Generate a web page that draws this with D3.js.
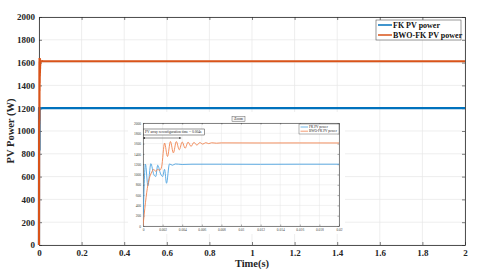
<!DOCTYPE html>
<html>
<head>
<meta charset="utf-8">
<script src="https://cdn.jsdelivr.net/npm/d3@7"></script>
<style>
  body { margin: 0; background: #fff; }
  svg { display: block; }
</style>
</head>
<body>
<div id="chart"></div>
<script>
// series (time in s, power in W)
var seriesNames = ["FK PV power", "BWO-FK PV power"];

var fkTime  = [0, 0.00025, 0.0005, 0.0008, 0.0011, 0.0013, 0.0015, 0.0018, 0.002, 0.0022, 0.0024, 0.0027, 0.003, 0.0033, 0.004, 0.005, 0.008, 0.012, 0.016, 0.02, 2];
var fkPower = [0, 1200, 780, 1210, 1000, 960, 1180, 1010, 960, 1100, 830, 1205, 1180, 1205, 1195, 1200, 1200, 1198, 1200, 1200, 1200];

var bwoTime  = [0, 0.0005, 0.0009, 0.0011, 0.0013, 0.0015, 0.0017, 0.0019, 0.0022, 0.0025, 0.0028, 0.0031, 0.0034, 0.0037, 0.004, 0.0043, 0.0046, 0.0049, 0.0052, 0.0055, 0.0058, 0.0061, 0.0064, 0.0067, 0.007, 0.0075, 0.008, 0.012, 0.016, 0.02, 2];
var bwoPower = [0, 800, 1050, 1100, 1060, 1100, 1080, 1150, 1610, 1350, 1640, 1420, 1640, 1480, 1630, 1510, 1628, 1545, 1624, 1570, 1620, 1590, 1618, 1600, 1616, 1608, 1614, 1612, 1613, 1612, 1612];

var xTicks = [0, 0.2, 0.4, 0.6, 0.8, 1, 1.2, 1.4, 1.6, 1.8, 2];
var yTicks = [0, 200, 400, 600, 800, 1000, 1200, 1400, 1600, 1800, 2000];
var zoomXTicks = [0, 0.002, 0.004, 0.006, 0.008, 0.01, 0.012, 0.014, 0.016, 0.018, 0.02];

var colors = ["#0072BD", "#D95319"];
var serif = "'Liberation Serif', 'Times New Roman', serif";
var plain = function(d) { return String(d); };

var W = 480, H = 274;
var svg = d3.select("#chart").append("svg")
    .attr("width", W).attr("height", H);

// main axes
var x = d3.scaleLinear().domain([0, 2]).range([39, 465]);
var y = d3.scaleLinear().domain([0, 2000]).range([245, 17]);

// grid
svg.append("g").selectAll("line").data(xTicks).enter().append("line")
    .attr("x1", function(d) { return x(d); }).attr("x2", function(d) { return x(d); })
    .attr("y1", y(0)).attr("y2", y(2000))
    .attr("stroke", "#e6e6e6").attr("stroke-width", 0.7);
svg.append("g").selectAll("line").data(yTicks).enter().append("line")
    .attr("y1", function(d) { return y(d); }).attr("y2", function(d) { return y(d); })
    .attr("x1", x(0)).attr("x2", x(2))
    .attr("stroke", "#e6e6e6").attr("stroke-width", 0.7);

var xAxis = svg.append("g")
    .attr("transform", "translate(0," + y(0) + ")")
    .call(d3.axisBottom(x).tickValues(xTicks).tickSizeInner(-3).tickSizeOuter(0).tickPadding(5)
        .tickFormat(plain));
var yAxis = svg.append("g")
    .attr("transform", "translate(" + x(0) + ",0)")
    .call(d3.axisLeft(y).tickValues(yTicks).tickSizeInner(-3).tickSizeOuter(0).tickPadding(4)
        .tickFormat(plain));
svg.append("g")
    .attr("transform", "translate(0," + y(2000) + ")")
    .call(d3.axisTop(x).tickValues(xTicks).tickSizeInner(-3).tickSizeOuter(0).tickFormat(""));
svg.append("g")
    .attr("transform", "translate(" + x(2) + ",0)")
    .call(d3.axisRight(y).tickValues(yTicks).tickSizeInner(-3).tickSizeOuter(0).tickFormat(""));

svg.selectAll(".domain").attr("stroke", "#262626").attr("stroke-width", 0.8);
svg.selectAll(".tick line").attr("stroke", "#262626").attr("stroke-width", 0.6);
svg.selectAll(".tick text")
    .style("font-family", serif).style("font-weight", "bold").style("font-size", "9px")
    .attr("fill", "#262626");

// axis titles
svg.append("text")
    .attr("x", x(1)).attr("y", 267)
    .attr("text-anchor", "middle")
    .style("font-family", serif).style("font-weight", "bold").style("font-size", "10.5px")
    .attr("fill", "#262626")
    .text("Time(s)");
svg.append("text")
    .attr("transform", "translate(14," + y(1000) + ") rotate(-90)")
    .attr("text-anchor", "middle")
    .style("font-family", serif).style("font-weight", "bold").style("font-size", "10.5px")
    .attr("fill", "#262626")
    .text("PV Power (W)");

// main lines
var line = d3.line()
    .x(function(d) { return x(d[0]); })
    .y(function(d) { return y(d[1]); });
var fkData = d3.zip(fkTime, fkPower);
var bwoData = d3.zip(bwoTime, bwoPower);

svg.append("path").datum(fkData)
    .attr("d", line).attr("fill", "none")
    .attr("stroke", colors[0]).attr("stroke-width", 2.2);
svg.append("path").datum(bwoData)
    .attr("d", line).attr("fill", "none")
    .attr("stroke", colors[1]).attr("stroke-width", 2.2);

// main legend
var leg = svg.append("g").attr("transform", "translate(376,20)");
leg.append("rect").attr("width", 85).attr("height", 20)
    .attr("fill", "#fff").attr("stroke", "#555").attr("stroke-width", 0.6);
seriesNames.forEach(function(name, i) {
    leg.append("line")
        .attr("x1", 2).attr("x2", 16)
        .attr("y1", 5 + i * 10).attr("y2", 5 + i * 10)
        .attr("stroke", colors[i]).attr("stroke-width", 1.5);
    leg.append("text")
        .attr("x", 17).attr("y", 8 + i * 10)
        .style("font-family", serif).style("font-weight", "bold").style("font-size", "8px")
        .attr("fill", "#111")
        .text(name);
});

// ---- inset (zoomed view of first 0.02 s) ----
var inset = svg.append("g");
inset.append("rect")
    .attr("x", 128).attr("y", 112).attr("width", 217).attr("height", 122)
    .attr("fill", "#fff");

var zx = d3.scaleLinear().domain([0, 0.02]).range([143, 339]);
var zy = d3.scaleLinear().domain([0, 2000]).range([226, 123]);

inset.append("g").selectAll("line").data(zoomXTicks).enter().append("line")
    .attr("x1", function(d) { return zx(d); }).attr("x2", function(d) { return zx(d); })
    .attr("y1", zy(0)).attr("y2", zy(2000))
    .attr("stroke", "#e4e4e4").attr("stroke-width", 0.5);
inset.append("g").selectAll("line").data(yTicks).enter().append("line")
    .attr("y1", function(d) { return zy(d); }).attr("y2", function(d) { return zy(d); })
    .attr("x1", zx(0)).attr("x2", zx(0.02))
    .attr("stroke", "#e4e4e4").attr("stroke-width", 0.5);

inset.append("g")
    .attr("transform", "translate(0," + zy(0) + ")")
    .call(d3.axisBottom(zx).tickValues(zoomXTicks).tickSizeInner(-1.5).tickSizeOuter(0).tickPadding(3)
        .tickFormat(plain));
inset.append("g")
    .attr("transform", "translate(" + zx(0) + ",0)")
    .call(d3.axisLeft(zy).tickValues(yTicks).tickSizeInner(-1.5).tickSizeOuter(0).tickPadding(2)
        .tickFormat(plain));
inset.append("g")
    .attr("transform", "translate(0," + zy(2000) + ")")
    .call(d3.axisTop(zx).tickValues(zoomXTicks).tickSizeInner(-1.5).tickSizeOuter(0).tickFormat(""));
inset.append("g")
    .attr("transform", "translate(" + zx(0.02) + ",0)")
    .call(d3.axisRight(zy).tickValues(yTicks).tickSizeInner(-1.5).tickSizeOuter(0).tickFormat(""));

inset.selectAll(".domain").attr("stroke", "#333").attr("stroke-width", 0.6);
inset.selectAll(".tick line").attr("stroke", "#333").attr("stroke-width", 0.4);
inset.selectAll(".tick text")
    .style("font-family", serif).style("font-weight", "normal").style("font-size", "3.5px").attr("fill", "#444");

var zline = d3.line()
    .x(function(d) { return zx(d[0]); })
    .y(function(d) { return zy(d[1]); })
    .curve(d3.curveMonotoneX);
inset.append("clipPath").attr("id", "zclip").append("rect")
    .attr("x", zx(0)).attr("y", zy(2000)).attr("width", zx(0.02) - zx(0)).attr("height", zy(0) - zy(2000));

inset.append("path").datum(fkData)
    .attr("clip-path", "url(#zclip)")
    .attr("d", zline).attr("fill", "none")
    .attr("stroke", "#4DA3E0").attr("stroke-width", 0.9);
inset.append("path").datum(bwoData)
    .attr("clip-path", "url(#zclip)")
    .attr("d", zline).attr("fill", "none")
    .attr("stroke", "#F0834F").attr("stroke-width", 0.9);

// inset title
inset.append("rect").attr("x", 232).attr("y", 116.5).attr("width", 13).attr("height", 5)
    .attr("fill", "#f4f4f4").attr("stroke", "#444").attr("stroke-width", 0.4);
inset.append("text").attr("x", 238.5).attr("y", 120.3).attr("text-anchor", "middle")
    .style("font-family", serif).style("font-size", "3.5px").attr("fill", "#222")
    .text("Zoom");

// inset legend
var zleg = inset.append("g").attr("transform", "translate(299,124)");
zleg.append("rect").attr("width", 40).attr("height", 10)
    .attr("fill", "#fff").attr("stroke", "#444").attr("stroke-width", 0.4);
seriesNames.forEach(function(name, i) {
    zleg.append("line")
        .attr("x1", 1.5).attr("x2", 9)
        .attr("y1", 3 + i * 4.2).attr("y2", 3 + i * 4.2)
        .attr("stroke", i === 0 ? "#4DA3E0" : "#F0834F").attr("stroke-width", 0.8);
    zleg.append("text")
        .attr("x", 10).attr("y", 4.2 + i * 4.2)
        .style("font-family", serif).style("font-size", "3.4px").attr("fill", "#222")
        .text(name);
});

// annotation: reconfiguration time
inset.append("rect").attr("x", zx(0) + 0.5).attr("y", 129).attr("width", 61).attr("height", 6)
    .attr("fill", "#fff").attr("stroke", "#333").attr("stroke-width", 0.5);
inset.append("text").attr("x", zx(0) + 2).attr("y", 133.2)
    .style("font-family", serif).style("font-size", "3.6px").attr("fill", "#222")
    .text("PV array reconfiguration time = 0.004s");

var defs = svg.append("defs");
defs.append("marker").attr("id", "arr").attr("viewBox", "0 0 10 10")
    .attr("refX", 10).attr("refY", 5).attr("markerWidth", 4).attr("markerHeight", 4)
    .attr("orient", "auto-start-reverse")
    .append("path").attr("d", "M0,0L10,5L0,10z").attr("fill", "#222");
inset.append("line")
    .attr("x1", zx(0)).attr("x2", zx(0.0039))
    .attr("y1", 138).attr("y2", 138)
    .attr("stroke", "#222").attr("stroke-width", 0.5)
    .attr("marker-start", "url(#arr)").attr("marker-end", "url(#arr)");
</script>
</body>
</html>
